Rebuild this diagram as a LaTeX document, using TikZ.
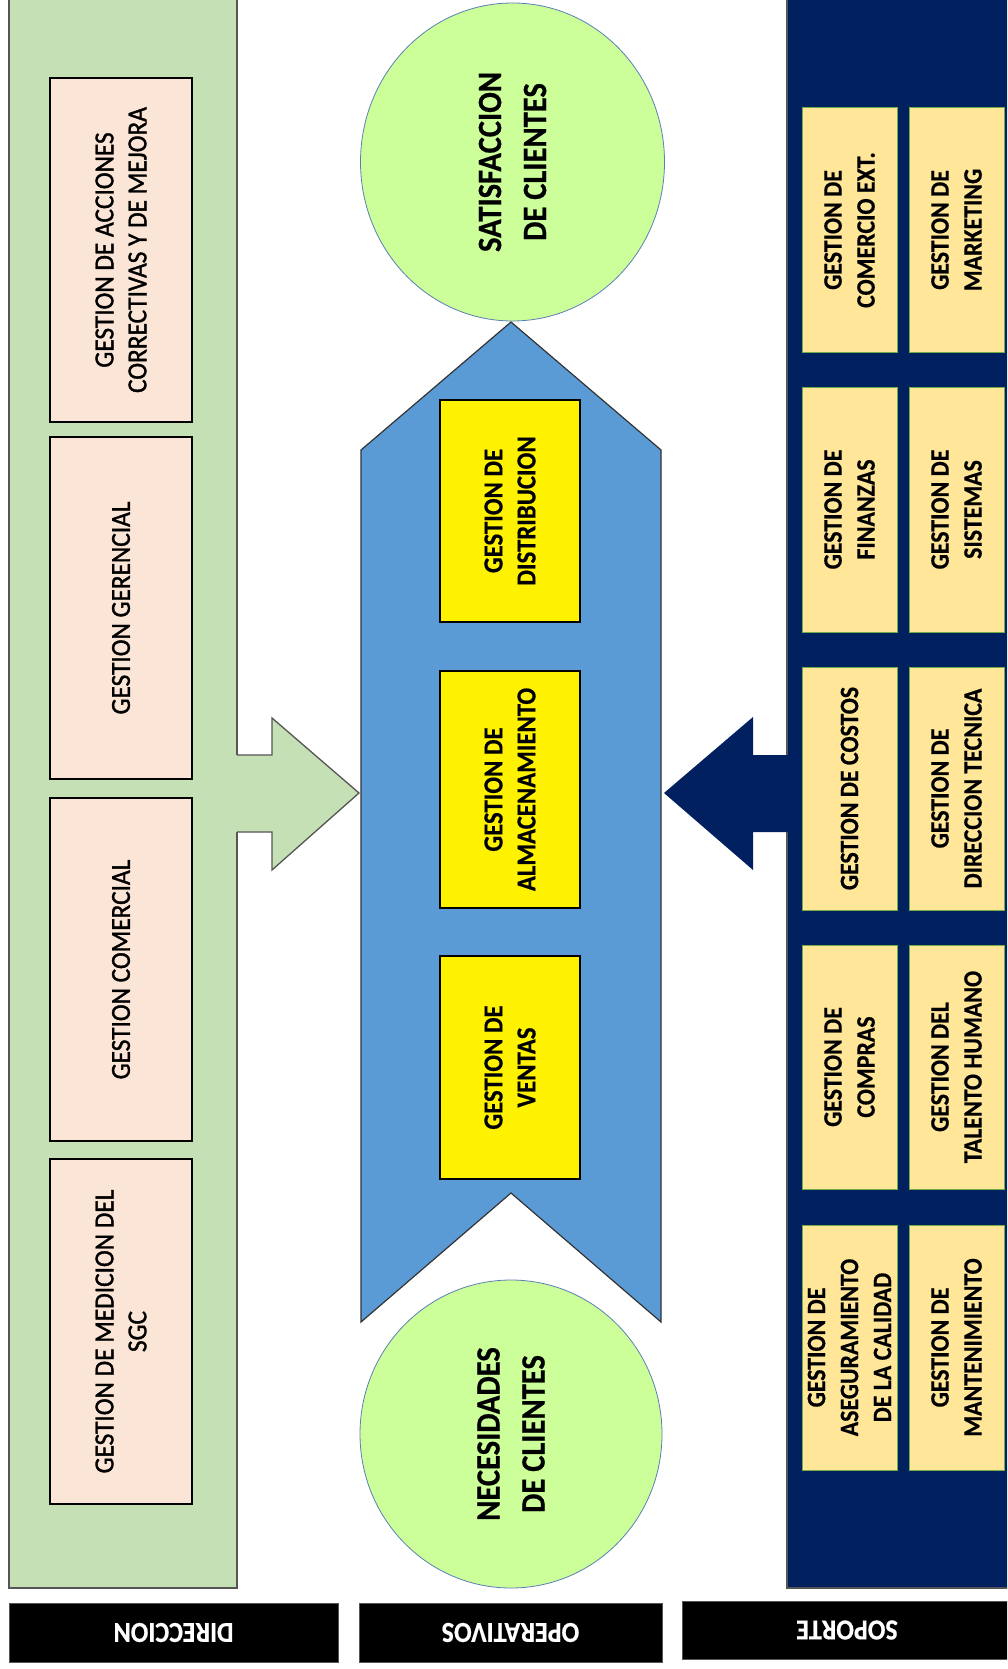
\documentclass[tikz,border=0pt]{standalone}
\usepackage{fontspec}
\setmainfont{Carlito}[FakeStretch=0.9, BoldFeatures={FakeBold=0.5}]
\newfontfamily\pinkfont{Carlito}[FakeStretch=0.92, FakeBold=1.3]
\usetikzlibrary{shapes.geometric}
\definecolor{panelgreen}{HTML}{C5E0B4}
\definecolor{pinkfill}{HTML}{FBE5D6}
\definecolor{chevblue}{HTML}{5B9BD5}
\definecolor{circgreen}{HTML}{CCFF99}
\definecolor{circedge}{HTML}{5B7FB5}
\definecolor{navy}{HTML}{002060}
\definecolor{tanfill}{HTML}{FFE699}
\definecolor{tanedge}{HTML}{70AD47}
\definecolor{edgegray}{HTML}{555555}
\tikzset{
  pinkbox/.style={draw=black, line width=1.3pt, fill=pinkfill, rotate=90, inner sep=0pt,
    align=center, font=\pinkfont\fontsize{27.5}{33}\selectfont},
  yellowbox/.style={draw=black, line width=1.2pt, fill=yellow, rotate=90, inner sep=0pt,
    align=center, font=\fontsize{27.5}{33}\selectfont\bfseries, minimum height=140pt},
  tanbox/.style={draw=tanedge, line width=1pt, fill=tanfill, rotate=90, inner sep=0pt,
    align=center, font=\fontsize{26.5}{33}\selectfont\bfseries, minimum height=95pt},
  circ/.style={ellipse, draw=circedge, line width=0.8pt, fill=circgreen, rotate=90, inner sep=0pt,
    align=center, font=\fontsize{34}{45}\selectfont\bfseries},
  blacklabel/.style={draw=edgegray, line width=0.8pt, fill=black, text=white, rotate=180, inner sep=0pt,
    font=\fontsize{29}{33}\selectfont\bfseries},
}
\begin{document}
\begin{tikzpicture}[x=1pt,y=-1pt]
\useasboundingbox (0,0) rectangle (1007,1669);
\clip (0,0) rectangle (1007,1669);
\fill[white] (0,0) rectangle (1007,1669);
% Direccion panel
\filldraw[fill=panelgreen, draw=edgegray, line width=1.3pt] (9,-10) rectangle (237,1588);
\fill[panelgreen] (234,755) -- (272,755) -- (272,718) -- (359,793) -- (272,870) -- (272,832) -- (234,832) -- cycle;
\draw[edgegray, line width=1.3pt] (237,755) -- (272,755) -- (272,718) -- (359,793) -- (272,870) -- (272,832) -- (237,832);
% Soporte panel
\filldraw[fill=navy, draw=edgegray, line width=1.3pt] (787,-10) rectangle (1015,1588);
\fill[navy] (790,755) -- (753,755) -- (753,717) -- (664,793) -- (753,870) -- (753,832) -- (790,832) -- cycle;
% Operativos chevron
\filldraw[fill=chevblue, draw=black!80, line width=1.2pt]
  (361,450) -- (511,322) -- (661,450) -- (661,1322) -- (511,1193) -- (361,1322) -- cycle;
% circles
\node[circ, minimum width=318pt, minimum height=304pt] (sat) at (512.5,162) {SATISFACCION\\DE CLIENTES};
\node[circ, minimum width=308pt, minimum height=302pt] (nec) at (511,1434) {NECESIDADES\\DE CLIENTES};
% pink boxes
\node[pinkbox, minimum width=344pt, minimum height=142pt] (p1) at (121,250) {GESTION DE ACCIONES\\CORRECTIVAS Y DE MEJORA};
\node[pinkbox, minimum width=342pt, minimum height=142pt] (p2) at (121,608) {GESTION GERENCIAL};
\node[pinkbox, minimum width=343pt, minimum height=142pt] (p3) at (121,969.5) {GESTION COMERCIAL};
\node[pinkbox, minimum width=345pt, minimum height=142pt] (p4) at (121,1331.5) {GESTION DE MEDICION DEL\\SGC};
% yellow boxes
\node[yellowbox, minimum width=222pt] (y1) at (510,511) {GESTION DE\\DISTRIBUCION};
\node[yellowbox, minimum width=237pt] (y2) at (510,789.5) {GESTION DE\\ALMACENAMIENTO};
\node[yellowbox, minimum width=223pt] (y3) at (510,1067.5) {GESTION DE\\VENTAS};
% tan boxes
\node[tanbox, minimum width=244pt] (t11) at (849.5,230) {GESTION DE\\COMERCIO EXT.};
\node[tanbox, minimum width=244pt] (t12) at (956.5,230) {GESTION DE\\MARKETING};
\node[tanbox, minimum width=245pt] (t21) at (849.5,509.5) {GESTION DE\\FINANZAS};
\node[tanbox, minimum width=245pt] (t22) at (956.5,509.5) {GESTION DE\\SISTEMAS};
\node[tanbox, minimum width=243pt] (t31) at (849.5,788.5) {GESTION DE COSTOS};
\node[tanbox, minimum width=243pt] (t32) at (956.5,788.5) {GESTION DE\\DIRECCION TECNICA};
\node[tanbox, minimum width=244pt] (t41) at (849.5,1067) {GESTION DE\\COMPRAS};
\node[tanbox, minimum width=244pt] (t42) at (956.5,1067) {GESTION DEL\\TALENTO HUMANO};
\node[tanbox, minimum width=245pt] (t51) at (849.5,1347.5) {GESTION DE\\ASEGURAMIENTO\\DE LA CALIDAD};
\node[tanbox, minimum width=245pt] (t52) at (956.5,1347.5) {GESTION DE\\MANTENIMIENTO};
% bottom labels
\node[blacklabel, minimum width=329pt, minimum height=59pt] (ldir) at (173.5,1632.5) {DIRECCION};
\node[blacklabel, minimum width=303pt, minimum height=59pt] (lope) at (510.5,1632.5) {OPERATIVOS};
\node[blacklabel, minimum width=330pt, minimum height=58pt] (lsop) at (847,1630) {SOPORTE};
\end{tikzpicture}
\end{document}
